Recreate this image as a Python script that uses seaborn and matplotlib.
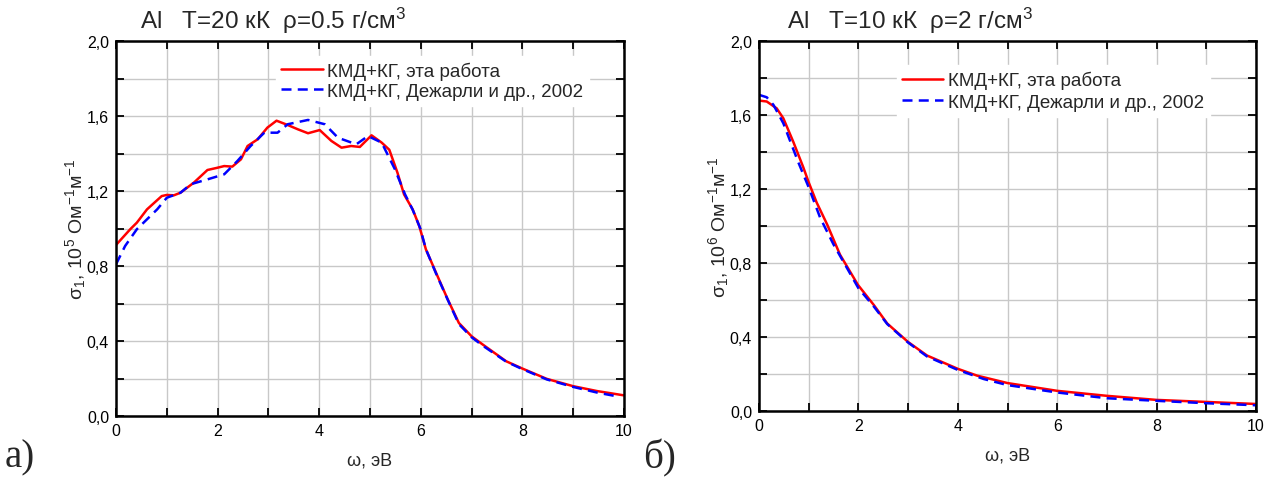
import numpy as np
import pandas as pd
import matplotlib
matplotlib.use("Agg")
import matplotlib.pyplot as plt
from matplotlib.ticker import MultipleLocator, FuncFormatter
import seaborn as sns

# ---- data ----
left_this_x = [0, 0.28, 0.41, 0.61, 0.9, 1.0, 1.14, 1.27, 1.53, 1.8, 1.98, 2.13, 2.29, 2.46, 2.59,
               2.79, 2.98, 3.16, 3.38, 3.58, 3.78, 4.01, 4.24, 4.44, 4.63, 4.8, 5.03, 5.23, 5.38,
               5.54, 5.67, 5.84, 5.97, 6.1, 6.3, 6.53, 6.75, 7.0, 7.22, 7.68, 8.0, 8.48, 9.0, 9.47, 10.0]
left_this_y = [0.912, 0.996, 1.031, 1.102, 1.173, 1.179, 1.177, 1.191, 1.244, 1.312, 1.323, 1.333,
               1.330, 1.369, 1.44, 1.476, 1.538, 1.575, 1.552, 1.529, 1.508, 1.525, 1.467, 1.431,
               1.44, 1.435, 1.497, 1.458, 1.42, 1.298, 1.182, 1.102, 1.013, 0.889, 0.764, 0.622,
               0.496, 0.425, 0.381, 0.292, 0.253, 0.198, 0.159, 0.133, 0.110]
left_dej_x = [0, 0.18, 0.41, 0.61, 0.81, 1.0, 1.27, 1.47, 1.8, 2.13, 2.39, 2.65, 2.92, 3.18, 3.38,
              3.78, 4.11, 4.37, 4.73, 4.96, 5.23, 5.49, 5.69, 5.84, 5.99, 6.1, 6.3, 6.53, 6.75,
              7.0, 7.22, 7.68, 8.0, 8.48, 9.0, 9.47, 9.8]
left_dej_y = [0.809, 0.907, 0.996, 1.049, 1.102, 1.164, 1.191, 1.236, 1.262, 1.289, 1.36, 1.44,
              1.511, 1.511, 1.556, 1.579, 1.556, 1.484, 1.449, 1.493, 1.458, 1.316, 1.182, 1.10,
              1.00, 0.89, 0.76, 0.62, 0.49, 0.42, 0.375, 0.29, 0.25, 0.195, 0.155, 0.125, 0.108]

right_this_x = [0, 0.155, 0.356, 0.49, 0.69, 0.89, 1.0, 1.16, 1.37, 1.63, 1.99, 2.31, 2.58, 3.0,
                3.38, 4.0, 4.39, 5.0, 6.0, 7.0, 8.0, 9.0, 10.0]
right_this_y = [1.678, 1.673, 1.636, 1.582, 1.455, 1.318, 1.236, 1.127, 1.009, 0.845, 0.682, 0.573,
                0.473, 0.373, 0.30, 0.228, 0.191, 0.151, 0.109, 0.082, 0.060, 0.049, 0.038]
right_dej_x = [0, 0.155, 0.29, 0.49, 0.79, 1.0, 1.23, 1.5, 1.77, 2.0, 2.31, 2.58, 3.0, 3.38, 4.0,
               4.52, 5.0, 6.0, 7.0, 8.0, 9.0, 10.0]
right_dej_y = [1.709, 1.696, 1.655, 1.555, 1.345, 1.209, 1.045, 0.90, 0.773, 0.664, 0.565, 0.47,
               0.37, 0.295, 0.222, 0.173, 0.14, 0.10, 0.069, 0.055, 0.042, 0.031]

label_this = "КМД+КГ, эта работа"
label_dej = "КМД+КГ, Дежарли и др., 2002"
titles = ["Al   T=20 кК  ρ=0.5 г/см$^3$", "Al   T=10 кК  ρ=2 г/см$^3$"]
ylabels = [r"σ$_1$, 10$^5$ Ом$^{-1}$м$^{-1}$", r"σ$_1$, 10$^6$ Ом$^{-1}$м$^{-1}$"]
xlabel = "ω, эВ"
panel_tags = ["а)", "б)"]

# ---- style ----
sns.set_theme(style="ticks")
plt.rcParams["font.family"] = ["Liberation Sans", "DejaVu Sans"]
plt.rcParams["mathtext.fontset"] = "custom"
plt.rcParams["mathtext.rm"] = "Liberation Sans"
plt.rcParams["mathtext.it"] = "Liberation Sans"
plt.rcParams["mathtext.bf"] = "Liberation Sans:bold"

fig = plt.figure(figsize=(12.81, 4.81), dpi=100)
W, H = 1281, 481
ax_boxes = [
    (116, 624, 42, 417),
    (759, 1256, 42, 412),
]

def make_df(x1, y1, x2, y2):
    d1 = pd.DataFrame({"x": x1, "y": y1, "src": label_this})
    d2 = pd.DataFrame({"x": x2, "y": y2, "src": label_dej})
    return pd.concat([d1, d2], ignore_index=True)

dfs = [make_df(left_this_x, left_this_y, left_dej_x, left_dej_y),
       make_df(right_this_x, right_this_y, right_dej_x, right_dej_y)]

comma = FuncFormatter(lambda v, p: f"{v:.1f}".replace(".", ","))
legend_anchor = [(0.296, 0.985), (0.258, 0.96)]
legend_spacing = [0.15, 0.25]
title_y_px = 21  # px above axes top (centre of title)

for i, (l, r, t, b) in enumerate(ax_boxes):
    ax = fig.add_axes([l / W, (H - b) / H, (r - l) / W, (b - t) / H])
    sns.lineplot(data=dfs[i], x="x", y="y", hue="src", style="src",
                 palette={label_this: "#ff0000", label_dej: "#0000ff"},
                 dashes={label_this: "", label_dej: (4, 2.5)},
                 linewidth=1.8, sort=True, estimator=None, ax=ax)
    ax.set_xlim(0, 10)
    ax.set_ylim(0, 2.0)
    ax.xaxis.set_major_locator(MultipleLocator(2))
    ax.xaxis.set_minor_locator(MultipleLocator(1))
    ax.yaxis.set_major_locator(MultipleLocator(0.4))
    ax.yaxis.set_minor_locator(MultipleLocator(0.2))
    ax.yaxis.set_major_formatter(comma)
    ax.grid(True, which="both", color="#c8c8c8", linewidth=1.0)
    ax.set_axisbelow(True)
    ax.tick_params(which="both", direction="in", top=True, right=True, colors="black",
                   labelsize=11.5, pad=5)
    ax.tick_params(which="major", length=6, width=1.3)
    ax.tick_params(which="minor", length=6, width=1.3)
    for s in ax.spines.values():
        s.set_color("black")
        s.set_linewidth(1.8)
    ax.set_xlabel(xlabel, fontsize=13, labelpad=10)
    ax.set_ylabel(ylabels[i], fontsize=14, labelpad=-1)
    height_px = b - t
    ax.text([0.047, 0.056][i], 1 + title_y_px / height_px, titles[i], transform=ax.transAxes,
            fontsize=17.5, ha="left", va="center")
    leg = ax.legend(loc="upper left", bbox_to_anchor=legend_anchor[i], fontsize=13.5,
                    frameon=True, framealpha=1.0, facecolor="white", edgecolor="white",
                    handlelength=2.2, handletextpad=0.25, borderpad=0.3,
                    labelspacing=legend_spacing[i], fancybox=False)
    leg.set_title(None)

fig.text(5 / W, 1 - 458 / H, panel_tags[0], fontsize=28, family="Liberation Serif",
         ha="left", va="center")
fig.text(643 / W, 1 - 458 / H, panel_tags[1], fontsize=28, family="Liberation Serif",
         ha="left", va="center")

fig.savefig("out.png", dpi=100)
